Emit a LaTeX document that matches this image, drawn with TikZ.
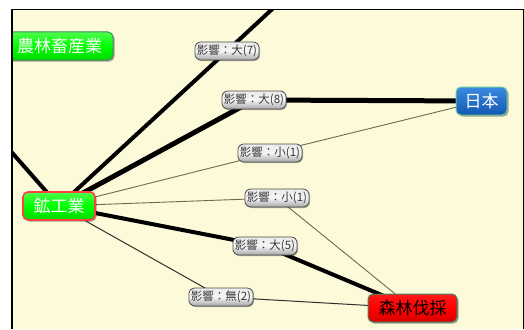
\documentclass[tikz,border=0pt]{standalone}
\usepackage{fontspec}
\newfontfamily\jp{Noto Sans CJK JP}
\usetikzlibrary{shadows}
\definecolor{bg}{HTML}{FCFAD8}
\definecolor{nodeedge}{HTML}{3C8C64}
\definecolor{thinline}{HTML}{6E6A50}
\definecolor{darkline}{HTML}{303030}
\definecolor{bluetop}{HTML}{3A8AE0}
\definecolor{bluebot}{HTML}{1458B0}
\definecolor{blueedge}{HTML}{6CC8A0}
\pgfdeclarelayer{edgelayer}
\pgfdeclarelayer{bglayer}
\pgfsetlayers{bglayer,edgelayer,main}
\tikzset{
  topic/.style={rectangle, rounded corners=5pt, minimum height=28pt, inner sep=3pt,
    font=\jp\fontsize{17}{17}\selectfont, line width=1pt, draw=nodeedge,
    drop shadow={shadow xshift=1.5pt, shadow yshift=-1.5pt, fill=black, opacity=0.35}},
  greentopic/.style={topic, top color=green!70!white, bottom color=green!85!black, middle color=green, text=white},
  bluetopic/.style={topic, top color=bluetop, bottom color=bluebot, text=white, draw=blueedge},
  redtopic/.style={topic, top color=red!90!white, bottom color=red!85!black, middle color=red, text=black},
  effect/.style={rectangle, rounded corners=6pt, minimum height=18pt, inner sep=2pt,
    font=\jp\fontsize{11.5}{11.5}\selectfont, text=black!78, draw=black!70, line width=0.8pt,
    top color=white!92!black, bottom color=black!35, middle color=white!96!black,
    drop shadow={shadow xshift=1pt, shadow yshift=-1pt, fill=black, opacity=0.3}},
  strong/.style={line width=4pt, black},
  stronger/.style={line width=5pt, black},
  weak/.style={line width=0.9pt, thinline},
  none/.style={line width=1pt, darkline},
}
\begin{document}
\begin{tikzpicture}[x=1pt,y=-1pt]
\useasboundingbox (0,0) rectangle (524,329);
\begin{pgfonlayer}{bglayer}
  \fill[white] (0,0) rectangle (524,329);
  \fill[bg] (12,10) rectangle (523,329);
\end{pgfonlayer}
\begin{scope}
\clip (12,10) rectangle (523,329);
\node[greentopic, minimum width=107pt] (agri) at (59.5,46) {農林畜産業};
\node[bluetopic, minimum width=51pt] (japan) at (481.5,101) {日本};
\node[greentopic, minimum width=72pt, draw=red!75!white, line width=1.6pt] (mining) at (59,206) {鉱工業};
\node[redtopic, minimum width=89pt] (forest) at (412.5,308) {森林伐採};

\node[effect] (l7) at (227,51) {影響：大(7)};
\node[effect] (l8) at (254,100) {影響：大(8)};
\node[effect] (s1a) at (270,153) {影響：小(1)};
\node[effect] (s1b) at (277,198) {影響：小(1)};
\node[effect] (l5) at (265,246) {影響：大(5)};
\node[effect] (n2) at (221,297) {影響：無(2)};

\coordinate (outtop) at (282,0);
\coordinate (outleft) at (0,139);
\end{scope}
\begin{pgfonlayer}{edgelayer}
  \clip (12,10) rectangle (523,329);
  \draw[strong] (mining.center) -- (l7.center) -- (outtop);
  \draw[strong] (mining.center) -- (outleft);
  \draw[stronger] (mining.center) -- (l8.center) -- (japan.center);
  \draw[weak] (mining.center) -- (s1a.center) -- (japan.center);
  \draw[weak] (mining.center) -- (s1b.center) -- (forest.center);
  \draw[strong] (mining.center) -- (l5.center) -- (forest.center);
  \draw[none] (mining.center) -- (n2.center) -- (forest.center);
\end{pgfonlayer}
\draw[line width=2pt] (11.5,329) -- (11.5,10);
\draw[line width=1pt] (11,9.5) -- (523,9.5) -- (523,329);
\end{tikzpicture}
\end{document}
